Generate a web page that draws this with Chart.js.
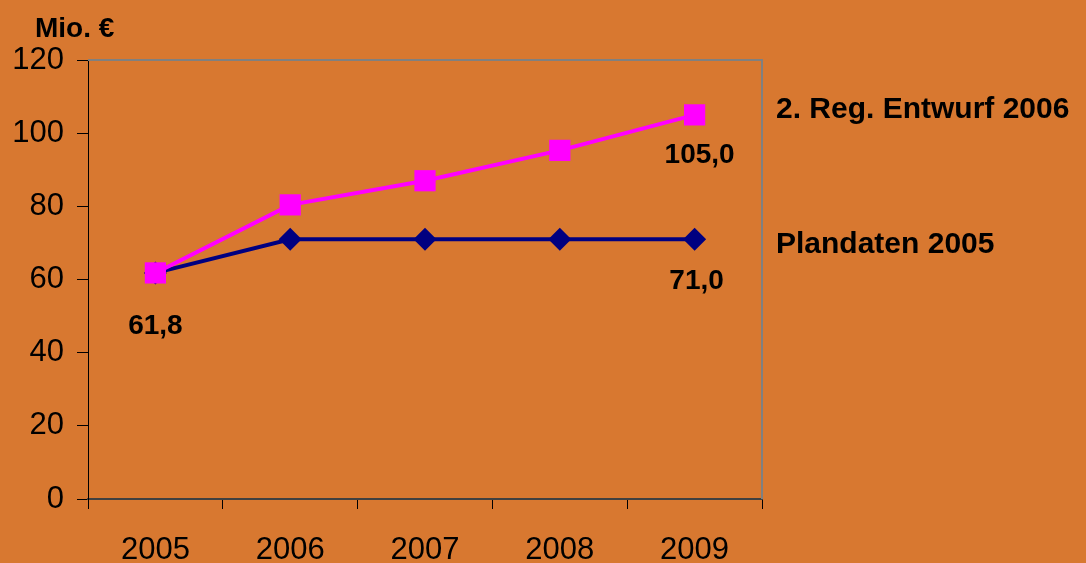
<!DOCTYPE html>
<html>
<head>
<meta charset="utf-8">
<script src="https://cdn.jsdelivr.net/npm/chart.js@4"></script>
<style>
  html, body { margin: 0; padding: 0; background: #D87830; }
  canvas { display: block; }
</style>
</head>
<body>
<canvas id="chart" width="1086" height="563"></canvas>
<script>
const years = ["2005", "2006", "2007", "2008", "2009"];
const entwurf2006 = [61.8, 80.4, 87.0, 95.3, 105.0];
const plandaten2005 = [61.8, 71.0, 71.0, 71.0, 71.0];
const yTicks = [0, 20, 40, 60, 80, 100, 120];
const seriesNames = ["2. Reg. Entwurf 2006", "Plandaten 2005"];

const bg = "#D87830";
const ctx = document.getElementById("chart").getContext("2d");

// background, frame lines, unit label, series names
const decor = {
  id: "decor",
  beforeDraw(chart) {
    const c = chart.ctx;
    c.save();
    c.fillStyle = bg;
    c.fillRect(0, 0, chart.width, chart.height);
    c.restore();
  },
  afterDraw(chart) {
    const c = chart.ctx;
    const a = chart.chartArea;
    c.save();
    c.strokeStyle = "#808080";
    c.lineWidth = 2;
    c.beginPath();
    c.moveTo(a.left, a.top);
    c.lineTo(a.right, a.top);
    c.lineTo(a.right, a.bottom);
    c.stroke();

    c.fillStyle = "#000";
    c.textBaseline = "alphabetic";
    c.textAlign = "left";
    c.font = "bold 28px 'Liberation Sans', Arial, sans-serif";
    c.fillText("Mio. €", 35, 37);
    c.font = "bold 30px 'Liberation Sans', Arial, sans-serif";
    c.fillText(seriesNames[0], 776, 118);
    c.fillText(seriesNames[1], 776, 253);
    c.restore();
  }
};

// value labels under selected points
const valueLabels = {
  id: "valueLabels",
  afterDatasetsDraw(chart, args, opts) {
    const c = chart.ctx;
    c.save();
    c.fillStyle = "#000";
    c.font = "bold 28px 'Liberation Sans', Arial, sans-serif";
    c.textAlign = "center";
    c.textBaseline = "middle";
    opts.items.forEach((it) => {
      const pt = chart.getDatasetMeta(it.ds).data[it.i];
      const v = chart.data.datasets[it.ds].data[it.i];
      c.fillText(v.toFixed(1).replace(".", ","), pt.x + it.dx, pt.y + it.dy);
    });
    c.restore();
  }
};

const data = {
  labels: years,
  datasets: [
    {
      label: seriesNames[0],
      data: entwurf2006,
      borderColor: "#FF00FF",
      backgroundColor: "#FF00FF",
      borderWidth: 4,
      pointStyle: "rect",
      pointRadius: 15,
      pointBorderWidth: 0,
      pointBackgroundColor: "#FF00FF",
      tension: 0,
    },
    {
      label: seriesNames[1],
      data: plandaten2005,
      borderColor: "#000080",
      backgroundColor: "#000080",
      borderWidth: 4,
      pointStyle: "rectRot",
      pointRadius: 11.5,
      pointBorderWidth: 0,
      pointBackgroundColor: "#000080",
      tension: 0,
    },
  ],
};

const config = {
  type: "line",
  data: data,
  plugins: [decor, valueLabels],
  options: {
    responsive: false,
    animation: false,
    layout: { padding: { top: 60, right: 324, left: 0, bottom: 0 } },
    plugins: {
      legend: { display: false },
      tooltip: { enabled: false },
      valueLabels: {
        items: [
          { ds: 1, i: 0, dx: 0, dy: 53 },
          { ds: 0, i: 4, dx: 5, dy: 40 },
          { ds: 1, i: 4, dx: 2, dy: 42 },
        ],
      },
    },
    scales: {
      x: {
        offset: true,
        afterFit: (s) => { s.height = 64; },
        grid: {
          offset: true,
          drawOnChartArea: false,
          tickLength: 10,
          tickColor: "#000",
        },
        border: { color: "#404040", width: 2 },
        ticks: {
          color: "#000",
          padding: 23,
          font: { family: "'Liberation Sans', Arial, sans-serif", size: 31 },
        },
      },
      y: {
        min: 0,
        max: 120,
        afterFit: (s) => { s.width = 88; },
        afterBuildTicks: (s) => { s.ticks = yTicks.map((v) => ({ value: v })); },
        grid: {
          drawOnChartArea: false,
          tickLength: 11,
          tickColor: "#000",
        },
        border: { color: "#000", width: 1 },
        ticks: {
          color: "#000",
          padding: 13,
          font: { family: "'Liberation Sans', Arial, sans-serif", size: 31 },
        },
      },
    },
  },
};

const chart = new Chart(ctx, config);
</script>
</body>
</html>
